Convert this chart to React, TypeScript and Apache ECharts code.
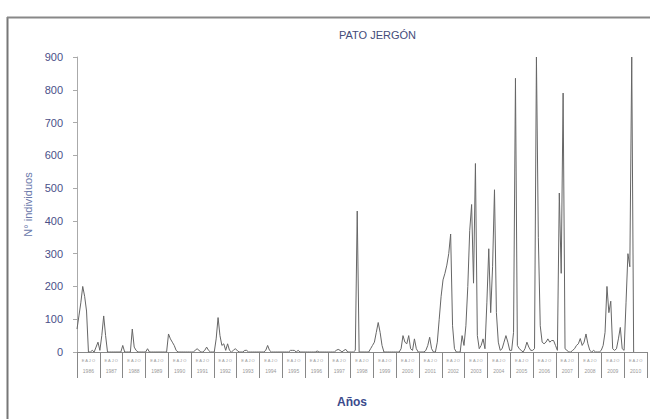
import React, { useEffect, useRef } from "react";
import * as echarts from "echarts";

const years: string[] = [
  "1986","1987","1988","1989","1990","1991","1992","1993","1994","1995",
  "1996","1997","1998","1999","2000","2001","2002","2003","2004","2005",
  "2006","2007","2008","2009","2010",
];
const monthMarks = "E A J O";
const yTicks = { min: 0, max: 900, interval: 100 };

// Monthly counts, one row per year (Jan..Dec)
const y1986 = [70, 110, 150, 200, 170, 125, 0, 0, 5, 0, 15, 30];
const y1987 = [5, 50, 110, 50, 0, 0, 0, 0, 0, 0, 0, 0];
const y1988 = [20, 0, 0, 0, 0, 70, 15, 5, 0, 0, 0, 0];
const y1989 = [0, 10, 0, 0, 0, 0, 0, 0, 0, 0, 0, 0];
const y1990 = [55, 40, 30, 20, 5, 0, 0, 0, 0, 0, 0, 0];
const y1991 = [0, 0, 5, 10, 5, 0, 0, 5, 15, 5, 0, 0];
const y1992 = [0, 40, 105, 50, 20, 25, 5, 25, 5, 0, 5, 10];
const y1993 = [5, 0, 0, 0, 5, 5, 0, 0, 0, 0, 0, 0];
const y1994 = [0, 0, 0, 5, 20, 5, 0, 0, 0, 0, 0, 0];
const y1995 = [0, 0, 0, 0, 5, 5, 5, 0, 5, 0, 0, 0];
const y1996 = [0, 0, 0, 0, 0, 0, 3, 0, 0, 0, 0, 0];
const y1997 = [0, 0, 0, 0, 5, 8, 5, 0, 5, 8, 0, 0];
const y1998 = [0, 0, 5, 430, 0, 0, 0, 0, 0, 0, 10, 20];
const y1999 = [30, 60, 90, 60, 20, 0, 0, 0, 0, 0, 0, 0];
const y2000 = [0, 0, 10, 50, 30, 25, 50, 10, 5, 40, 10, 0];
const y2001 = [0, 0, 0, 5, 20, 45, 10, 0, 0, 30, 100, 170];
const y2002 = [220, 240, 265, 300, 360, 80, 10, 0, 0, 0, 50, 20];
const y2003 = [80, 200, 370, 450, 210, 575, 50, 10, 20, 40, 10, 150];
const y2004 = [315, 120, 260, 495, 120, 30, 5, 10, 30, 50, 30, 5];
const y2005 = [5, 60, 835, 20, 10, 5, 0, 10, 30, 15, 5, 5];
const y2006 = [10, 900, 350, 80, 30, 25, 30, 40, 30, 35, 35, 20];
const y2007 = [5, 485, 240, 790, 10, 5, 0, 0, 5, 10, 20, 25];
const y2008 = [41, 20, 30, 55, 25, 5, 0, 5, 0, 0, 0, 5];
const y2009 = [20, 60, 200, 120, 155, 10, 5, 10, 40, 75, 10, 5];
const y2010 = [150, 300, 260, 900, 0, null, null, null, null, null, null, null];

const monthly = [
  y1986, y1987, y1988, y1989, y1990, y1991, y1992, y1993, y1994, y1995,
  y1996, y1997, y1998, y1999, y2000, y2001, y2002, y2003, y2004, y2005,
  y2006, y2007, y2008, y2009, y2010,
];

export default function App() {
  const ref = useRef<HTMLDivElement>(null);
  useEffect(() => {
    if (!ref.current) return;
    const chart = echarts.init(ref.current, null, { renderer: "svg" });
    const cats: string[] = [];
    const vals: (number | null)[] = [];
    monthly.forEach((row, yi) => {
      row.forEach((v, mi) => {
        cats.push(years[yi] + "-" + (mi + 1));
        vals.push(v);
      });
    });
    chart.setOption({
      animation: false,
      backgroundColor: "#fff",
      title: {
        text: "PATO JERGÓN",
        left: 334,
        top: 24,
        textStyle: { fontSize: 11, fontWeight: "normal", color: "#444c7a", fontFamily: "Liberation Sans, Arial" },
      },
      grid: { left: 77, top: 57, width: 570, height: 295, containLabel: false },
      xAxis: [
        {
          type: "category",
          data: cats,
          boundaryGap: false,
          axisLine: { lineStyle: { color: "#888", width: 1 } },
          axisTick: { show: false },
          axisLabel: { show: false },
          splitLine: { show: false },
          name: "Años",
          nameLocation: "middle",
          nameGap: 44,
          nameTextStyle: { color: "#3b4a8c", fontSize: 12, fontWeight: "bold", fontFamily: "Liberation Sans, Arial", padding: [0, 20, 0, 0] },
        },
        {
          type: "category",
          data: years,
          position: "bottom",
          boundaryGap: true,
          axisLine: { show: false },
          axisTick: { show: true, length: 26, lineStyle: { color: "#888" } },
          axisLabel: { show: true, interval: 0, margin: 16, fontSize: 5, color: "#999", fontFamily: "Liberation Sans, Arial" },
          splitLine: { show: false },
        },
        {
          type: "category",
          data: years,
          position: "bottom",
          boundaryGap: true,
          axisLine: { show: false },
          axisTick: { show: false },
          axisLabel: { show: true, interval: 0, margin: 6, fontSize: 4, color: "#999", fontFamily: "Liberation Sans, Arial", formatter: () => monthMarks },
          splitLine: { show: false },
        },
      ],
      yAxis: {
        type: "value",
        min: yTicks.min,
        max: yTicks.max,
        interval: yTicks.interval,
        axisLine: { show: true, lineStyle: { color: "#aaa" } },
        axisTick: { show: true, length: 4, lineStyle: { color: "#aaa" } },
        splitLine: { show: false },
        axisLabel: { color: "#4a4f88", fontSize: 11, margin: 14, fontFamily: "Liberation Sans, Arial" },
        name: "N° individuos",
        nameLocation: "middle",
        nameGap: 44,
        nameTextStyle: { color: "#6a78aa", fontSize: 11, fontFamily: "Liberation Sans, Arial" },
      },
      series: [
        {
          type: "line",
          xAxisIndex: 0,
          data: vals,
          symbol: "none",
          connectNulls: false,
          lineStyle: { color: "#666", width: 1 },
        },
      ],
      graphic: [
        { type: "line", shape: { x1: 7.5, y1: 17, x2: 7.5, y2: 419 }, style: { stroke: "#777", lineWidth: 2 } },
        { type: "line", shape: { x1: 7, y1: 17.5, x2: 650, y2: 17.5 }, style: { stroke: "#888", lineWidth: 2 } },
      ],
    });
    return () => chart.dispose();
  }, []);
  return (
    <div
      ref={ref}
      style={{ position: "absolute", left: 0, top: 0, width: 650, height: 419, background: "#fff" }}
    />
  );
}
